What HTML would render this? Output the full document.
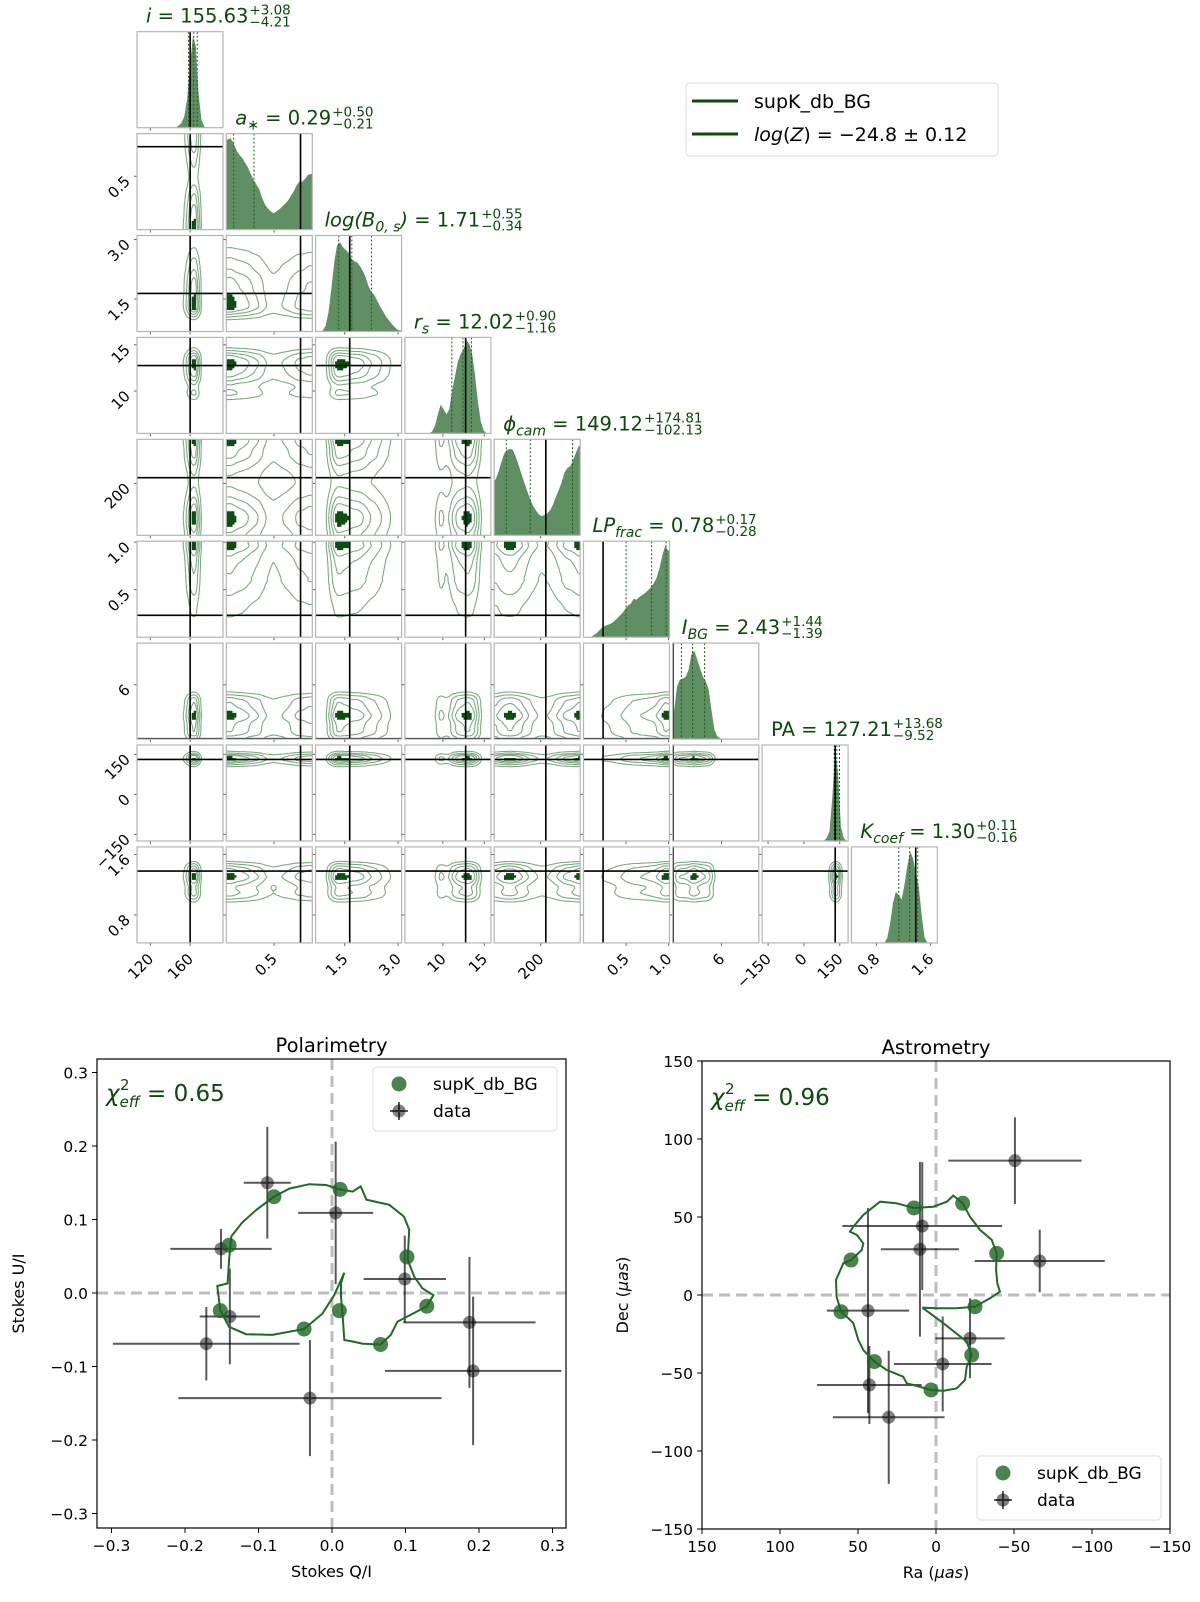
<!DOCTYPE html>
<html><head><meta charset="utf-8"><style>
html,body{margin:0;padding:0;background:#fff;}
svg{display:block;font-family:"DejaVu Sans","Liberation Sans",sans-serif;}
</style></head><body>
<svg id="chart" xmlns="http://www.w3.org/2000/svg" width="1200" height="1602" viewBox="0 0 1200 1602">
<rect x="0" y="0" width="1200" height="1602" fill="#fff"/>
<g>
<rect x="686" y="83" width="312" height="73" rx="4" fill="#fff" stroke="#ddd"/>
<line x1="692" y1="101" x2="738" y2="101" stroke="#0b4a0b" stroke-width="3"/>
<text x="754" y="108" font-size="19">supK_db_BG</text>
<line x1="692" y1="134" x2="738" y2="134" stroke="#0b4a0b" stroke-width="3"/>
<text x="754" y="141" font-size="19"><tspan font-style="italic">log</tspan>(<tspan font-style="italic">Z</tspan>) = −24.8 ± 0.12</text>
</g>
</svg>
<script>
// ---------------- corner data ----------------
const paramLo = [106.6, 0, 0.68, 5.42, 0, 0, 0, -175, 0.43];
const paramHi = [193, 0.9, 3.1, 15.8, 370, 1.01, 10.6, 185, 1.70];
const truths = [160, 0.777, 1.64, 12.75, 222, 0.23, 0.05, 131, 1.38];
const q16 = [158.4, 0.077, 1.33, 11.08, 52, 0.50, 1.06, 127, 1.13];
const q50 = [163.6, 0.29, 1.70, 12.43, 155, 0.80, 2.44, 138, 1.29];
const q84 = [167.1, 0.774, 2.25, 13.46, 337, 0.97, 3.92, 149, 1.41];
const histI = [0,0,0,0,0,0,0,0,0,0,0,0,0,0,0.02,0.05,0.12,0.3,0.65,0.95,0.85,0.35,0.08,0.01,0,0,0,0,0,0];
const histA = [0.94,0.95,0.9,0.83,0.78,0.75,0.7,0.65,0.58,0.52,0.47,0.42,0.33,0.26,0.22,0.19,0.17,0.19,0.21,0.24,0.27,0.3,0.35,0.4,0.46,0.5,0.5,0.53,0.57,0.58];
const histB = [0,0,0.01,0.06,0.2,0.45,0.72,0.9,0.93,0.88,0.85,0.82,0.76,0.73,0.72,0.68,0.63,0.56,0.47,0.41,0.38,0.32,0.26,0.21,0.16,0.12,0.08,0.05,0.02,0.01];
const histR = [0,0,0,0,0,0,0,0,0,0.02,0.08,0.2,0.3,0.25,0.2,0.25,0.45,0.6,0.75,0.83,0.88,0.97,0.93,0.82,0.6,0.32,0.12,0.03,0,0];
const histPhi = [0.58,0.66,0.76,0.85,0.89,0.9,0.89,0.82,0.73,0.64,0.55,0.46,0.38,0.31,0.26,0.22,0.2,0.21,0.23,0.26,0.32,0.4,0.47,0.55,0.65,0.7,0.72,0.78,0.86,0.93];
const histLP = [0,0,0,0.02,0.04,0.07,0.1,0.12,0.13,0.14,0.16,0.19,0.22,0.25,0.29,0.33,0.35,0.4,0.39,0.42,0.44,0.46,0.49,0.52,0.56,0.62,0.72,0.85,0.95,0.9];
const histBG = [0.3,0.55,0.62,0.63,0.65,0.72,0.88,0.92,0.83,0.74,0.65,0.6,0.52,0.3,0.1,0.03,0.01,0,0,0,0,0,0,0,0,0,0,0,0,0];
const histPA = [0,0,0,0,0,0,0,0,0,0,0,0,0,0,0,0,0,0,0,0,0,0,0.03,0.1,0.45,0.95,0.7,0.15,0.03,0];
const histK = [0,0,0,0,0,0,0,0,0,0,0,0,0.05,0.2,0.42,0.53,0.5,0.45,0.6,0.8,0.95,0.88,0.73,0.58,0.3,0.06,0,0,0,0];
const tickVals = [[120,160],[0.5],[1.5,3.0],[10,15],[200],[0.5,1.0],[6],[-150,0,150],[0.8,1.6]];
const tickLabels = [["120","160"],["0.5"],["1.5","3.0"],["10","15"],["200"],["0.5","1.0"],["6"],["−150","0","150"],["0.8","1.6"]];
const titleMain = [" = 155.63"," = 0.29"," = 1.71"," = 12.02"," = 149.12"," = 0.78"," = 2.43","PA = 127.21"," = 1.30"];
const titleSup = ["+3.08","+0.50","+0.55","+0.90","+174.81","+0.17","+1.44","+13.68","+0.11"];
const titleSub = ["−4.21","−0.21","−0.34","−1.16","−102.13","−0.28","−1.39","−9.52","−0.16"];
const titleSym = ["i","a","log(B","r","ϕ","LP","I","","K"];
const titleSymSub = ["","∗","0, s","s","cam","frac","BG","","coef"];
const titleSymTail = ["","",")","","","","","",""];
const paramNames = ["i","a-star","log-b0s","r-s","phi-cam","lp-frac","i-bg","pa","k-coef"];

// ---------------- bottom plots data ----------------
const polQ = [-0.088,0.005,-0.151,0.099,-0.139,-0.171,0.187,0.192,-0.030];
const polU = [0.150,0.109,0.060,0.019,-0.032,-0.069,-0.040,-0.106,-0.143];
const polQerr = [0.032,0.051,0.069,0.056,0.041,0.127,0.09,0.12,0.179];
const polUerr = [0.076,0.097,0.027,0.059,0.065,0.05,0.089,0.101,0.079];
const modelQ = [-0.079,0.011,-0.140,0.102,0.129,-0.152,0.010,-0.038,0.066];
const modelU = [0.131,0.141,0.065,0.049,-0.018,-0.024,-0.024,-0.049,-0.070];
const curveQ = [0.0168,0.0122,0.0122,0.0145,0.0168,0.028,0.042,0.066,0.080,0.089,0.110,0.129,0.138,0.123,0.112,0.103,0.105,0.098,0.078,0.047,0.039,0.028,0.011,-0.008,-0.031,-0.058,-0.079,-0.103,-0.122,-0.137,-0.140,-0.142,-0.156,-0.152,-0.140,-0.117,-0.081,-0.038,-0.013,0.003,0.0168];
const curveU = [0.0276,0.0132,-0.005,-0.032,-0.064,-0.066,-0.069,-0.070,-0.057,-0.039,-0.028,-0.018,-0.003,0.0064,0.022,0.045,0.086,0.104,0.120,0.127,0.145,0.138,0.141,0.147,0.148,0.142,0.131,0.113,0.096,0.077,0.045,0.013,0.0095,-0.024,-0.046,-0.056,-0.057,-0.049,-0.028,-0.003,0.0276];
const polTicks = [-0.3,-0.2,-0.1,0.0,0.1,0.2,0.3];
const polTickLabels = ["−0.3","−0.2","−0.1","0.0","0.1","0.2","0.3"];

const astRa = [-50.6,-66.5,8.8,10.3,43.6,-21.8,-4.3,42.7,30.3];
const astDec = [86.1,21.8,44.2,29.3,-10.0,-27.8,-44.2,-57.7,-78.4];
const astRaErr = [42.7,41.7,51.2,25,26.4,22.2,31.3,33.5,35.8];
const astDecErr = [27.8,20,41,56,65.7,25.6,30.4,25,42.7];
const modelRa = [14.1,-17.1,54.5,-38.9,60.9,-25,-22.9,39.5,3.2];
const modelDec = [55.8,58.8,22.4,26.7,-10.7,-7.5,-38.5,-42.7,-60.9];
const curveRa = [8.8,-4.7,-19.7,-22.9,-19.7,-18.6,-13.3,-4.7,3.2,12.4,18.8,21.0,31.6,39.5,46.6,49.8,53.0,57.2,60.9,63.7,64.1,59.4,54.5,47.6,46.6,50.8,55.1,53.0,46.6,35.9,25.2,14.1,1.7,-6.9,-11.1,-17.1,-21.8,-28.2,-35.7,-38.9,-38.5,-39.3,-41.0,-34.6,-25.0,-13.3,-0.4,8.8];
const curveDec = [-8.1,-18.1,-29.9,-38.5,-46.0,-54.5,-59.8,-61.5,-60.9,-58.3,-56.6,-52.4,-48.1,-42.7,-35.3,-28.8,-18.1,-13.9,-10.7,-1.1,9.6,20.3,22.4,28.8,33.1,38.5,40.6,43.8,51.3,59.8,58.8,55.8,56.6,59.8,63.7,58.8,50.2,41.7,35.3,26.7,16.0,7.5,2.1,-2.1,-7.5,-8.5,-8.5,-8.1];
const astTicks = [150,100,50,0,-50,-100,-150];
const astTickLabels = ["150","100","50","0","−50","−100","−150"];

// ---------------- helpers ----------------
const NS = 'http://www.w3.org/2000/svg';
const svg = document.getElementById('chart');
function mk(tag, attrs, parent) {
  const e = document.createElementNS(NS, tag);
  for (const k in attrs) e.setAttribute(k, attrs[k]);
  (parent || svg).appendChild(e);
  return e;
}
const hists = [histI, histA, histB, histR, histPhi, histLP, histBG, histPA, histK];
const W = 86, H = 96;
const colLeft = c => 137 + c * 89.3;
const rowTop = r => 31.7 + r * 101.9;
const frac = (p, v) => (v - paramLo[p]) / (paramHi[p] - paramLo[p]);
const xs = (c, v) => colLeft(c) + frac(c, v) * W;
const ys = (r, v) => rowTop(r) + H - frac(r, v) * H;
function hval(p, f) {
  const h = hists[p], n = h.length;
  let idx = f * n - 0.5;
  if (idx <= 0) return h[0];
  if (idx >= n - 1) return h[n - 1];
  const i0 = Math.floor(idx), t = idx - i0;
  return h[i0] * (1 - t) + h[i0 + 1] * t;
}
const GREEN_DARK = '#0b4a0b';

// ---------------- corner panels ----------------
const corner = mk('g', {});



function contourPath(v, N, level, x0, y0, cw, ch) {
  let d = '';
  const P = (x, y) => x.toFixed(1) + ',' + y.toFixed(1);
  for (let j = 0; j < N; j++) for (let i = 0; i < N; i++) {
    const a = v[j][i], b = v[j][i + 1], c = v[j + 1][i + 1], e = v[j + 1][i];
    const idx = (a > level ? 8 : 0) | (b > level ? 4 : 0) | (c > level ? 2 : 0) | (e > level ? 1 : 0);
    if (idx === 0 || idx === 15) continue;
    const T = () => P(x0 + (i + (level - a) / (b - a)) * cw, y0 + j * ch);
    const R = () => P(x0 + (i + 1) * cw, y0 + (j + (level - b) / (c - b)) * ch);
    const B = () => P(x0 + (i + (level - e) / (c - e)) * cw, y0 + (j + 1) * ch);
    const L = () => P(x0 + i * cw, y0 + (j + (level - a) / (e - a)) * ch);
    const seg = (p, q) => { d += 'M' + p() + 'L' + q(); };
    switch (idx) {
      case 1: case 14: seg(L, B); break;
      case 2: case 13: seg(B, R); break;
      case 3: case 12: seg(L, R); break;
      case 4: case 11: seg(T, R); break;
      case 5: seg(L, T); seg(B, R); break;
      case 6: case 9: seg(T, B); break;
      case 7: case 8: seg(L, T); break;
      case 10: seg(T, R); seg(L, B); break;
    }
  }
  return d;
}

for (let r = 0; r < 9; r++) {
  for (let c = 0; c <= r; c++) {
    const x0 = colLeft(c), y0 = rowTop(r);
    const g = mk('g', {}, corner);
    
    
    if (r === c) {
      const h = hists[c], n = h.length;
      let pts = [[x0, y0 + H], [x0, y0 + H - h[0] * H]];
      for (let k = 0; k < n; k++) pts.push([x0 + (k + 0.5) / n * W, y0 + H - h[k] * H]);
      pts.push([x0 + W, y0 + H - h[n - 1] * H], [x0 + W, y0 + H]);
      const poly = mk('polygon', { points: pts.map(p => p[0].toFixed(1) + ',' + p[1].toFixed(1)).join(' '), fill: '#5f8f63', stroke: 'none' }, g);
      
      
      [q16[c], q50[c], q84[c]].forEach((q, qi) => {
        const X = xs(c, q);
        const ln = mk('line', { x1: X, x2: X, y1: y0, y2: y0 + H, stroke: '#1d5a1f', 'stroke-width': 1, 'stroke-dasharray': '2,2' }, g);
        
        
      });
      const tX = xs(c, truths[c]);
      const tl = mk('line', { x1: tX, x2: tX, y1: y0, y2: y0 + H, stroke: '#000', 'stroke-width': 1.6 }, g);
      
      
    } else {
      const N = 44;
      const v = [];
      let mx = 0;
      for (let j = 0; j <= N; j++) {
        v.push([]);
        for (let i = 0; i <= N; i++) {
          const d = hval(c, i / N) * hval(r, 1 - j / N);
          v[j].push(d); if (d > mx) mx = d;
        }
      }
      if (mx > 0) for (let j = 0; j <= N; j++) for (let i = 0; i <= N; i++) v[j][i] /= mx;
      const cw = W / N, ch = H / N;
      let fd = '';
      for (let j = 0; j < N; j++) for (let i = 0; i < N; i++) {
        const m = (v[j][i] + v[j][i + 1] + v[j + 1][i] + v[j + 1][i + 1]) / 4;
        if (m > 0.86) fd += 'M' + (x0 + i * cw).toFixed(1) + ',' + (y0 + j * ch).toFixed(1) + 'h' + (cw + 0.3).toFixed(2) + 'v' + (ch + 0.3).toFixed(2) + 'h-' + (cw + 0.3).toFixed(2) + 'z';
      }
      const fill = mk('path', { d: fd, fill: '#0d4d12' }, g);
      
      
      [0.1, 0.25, 0.45, 0.65].forEach(lv => {
        const cp = mk('path', { d: contourPath(v, N, lv, x0, y0, cw, ch), fill: 'none', stroke: '#7daa80', 'stroke-width': 1.1 }, g);
        
        
      });
      const vX = xs(c, truths[c]);
      const vl = mk('line', { x1: vX, x2: vX, y1: y0, y2: y0 + H, stroke: '#000', 'stroke-width': 1.6 }, g);
      
      
      const hY = ys(r, truths[r]);
      const hl = mk('line', { x1: x0, x2: x0 + W, y1: hY, y2: hY, stroke: '#000', 'stroke-width': 1.6 }, g);
      
      
      tickVals[r].forEach(tv => {
        const Y = ys(r, tv);
        const tk = mk('line', { x1: x0 - 3, x2: x0, y1: Y, y2: Y, stroke: '#666', 'stroke-width': 1 }, g);
        
        
      });
    }
    tickVals[c].forEach(tv => {
      const X = xs(c, tv);
      const tk = mk('line', { x1: X, x2: X, y1: y0 + H, y2: y0 + H + 3, stroke: '#666', 'stroke-width': 1 }, g);
      
      
    });
    const fr = mk('rect', { x: x0, y: y0, width: W, height: H, fill: 'none', stroke: '#b5b5b5', 'stroke-width': 1.2 }, g);
    
    
  }
}
// bottom tick labels
for (let c = 0; c < 9; c++) {
  tickVals[c].forEach((tv, k) => {
    const X = xs(c, tv) + 4, Y = rowTop(8) + H + 17;
    const t = mk('text', { x: X, y: Y, 'font-size': 15, 'text-anchor': 'end', transform: 'rotate(-45 ' + X + ' ' + Y + ')' }, corner);
    t.textContent = tickLabels[c][k];
    
    
  });
}
// left tick labels
for (let r = 1; r < 9; r++) {
  tickVals[r].forEach((tv, k) => {
    const Y = ys(r, tv), X = colLeft(0) - 6;
    const t = mk('text', { x: X, y: Y + 6, 'font-size': 15, 'text-anchor': 'end', transform: 'rotate(-45 ' + X + ' ' + (Y + 6) + ')' }, corner);
    t.textContent = tickLabels[r][k];
    
    
  });
}
// titles
for (let p = 0; p < 9; p++) {
  const X = colLeft(p) + 9, Y = rowTop(p) - 9;
  const t = mk('text', { x: X, y: Y, 'font-size': 19.5, fill: GREEN_DARK }, corner);
  
  
  if (titleSym[p]) {
    const s = mk('tspan', { 'font-style': 'italic' }, t); s.textContent = titleSym[p];
    
    
  }
  if (titleSymSub[p]) {
    const s = mk('tspan', { 'font-style': 'italic', 'font-size': 14, dy: 5 }, t); s.textContent = titleSymSub[p];
    
    
  }
  const m = mk('tspan', titleSymSub[p] ? { dy: -5 } : {}, t);
  if (titleSymTail[p]) { const tl = mk('tspan', { 'font-style': 'italic' }, m); tl.textContent = titleSymTail[p];   }
  const mm = mk('tspan', {}, m); mm.textContent = titleMain[p];
  
  
  
  
  let w = 0; try { w = t.getComputedTextLength(); } catch (e) { w = 120; }
  const sp = mk('text', { x: X + w + 1, y: Y - 8, 'font-size': 13.5, fill: GREEN_DARK }, corner); sp.textContent = titleSup[p];
  
  
  const sb = mk('text', { x: X + w + 1, y: Y + 4, 'font-size': 13.5, fill: GREEN_DARK }, corner); sb.textContent = titleSub[p];
  
  
}

// ---------------- bottom plots ----------------
function drawPanel(cfg) {
  const g = mk('g', {});
  
  
  const { L, R, T, B, sx, sy } = cfg;
  const zx = mk('line', { x1: sx(0), x2: sx(0), y1: T, y2: B, stroke: '#bdbdbd', 'stroke-width': 3, 'stroke-dasharray': '11,6' }, g);
  
  
  const zy = mk('line', { x1: L, x2: R, y1: sy(0), y2: sy(0), stroke: '#bdbdbd', 'stroke-width': 3, 'stroke-dasharray': '11,6' }, g);
  
  
  cfg.dx.forEach((vx, k) => {
    const X = sx(vx), Y = sy(cfg.dy[k]);
    const eb = mk('path', { d: 'M' + sx(vx - cfg.dxe[k]) + ',' + Y + 'H' + sx(vx + cfg.dxe[k]) + 'M' + X + ',' + sy(cfg.dy[k] - cfg.dye[k]) + 'V' + sy(cfg.dy[k] + cfg.dye[k]), stroke: 'rgba(0,0,0,0.65)', 'stroke-width': 2, fill: 'none' }, g);
    
    
    const pt = mk('circle', { cx: X, cy: Y, r: 6.5, fill: 'rgba(0,0,0,0.5)' }, g);
    
    
  });
  const cp = mk('polyline', { points: cfg.cx.map((v, k) => sx(v).toFixed(1) + ',' + sy(cfg.cy[k]).toFixed(1)).join(' '), fill: 'none', stroke: '#1f6b25', 'stroke-width': 2 }, g);
  
  
  cfg.mx.forEach((v, k) => {
    const m = mk('circle', { cx: sx(v), cy: sy(cfg.my[k]), r: 7.5, fill: 'rgba(30,100,35,0.8)' }, g);
    
    
  });
  const fr = mk('rect', { x: L, y: T, width: R - L, height: B - T, fill: 'none', stroke: '#000', 'stroke-width': 1.2 }, g);
  
  
  cfg.xt.forEach((tv, k) => {
    const X = sx(tv);
    const tk = mk('line', { x1: X, x2: X, y1: B, y2: B + 5, stroke: '#000' }, g);
    
    
    const tl = mk('text', { x: X, y: B + 23, 'font-size': 15.5, 'text-anchor': 'middle' }, g);
    tl.textContent = cfg.xtl[k];
    
    
  });
  cfg.yt.forEach((tv, k) => {
    const Y = sy(tv);
    const tk = mk('line', { x1: L - 5, x2: L, y1: Y, y2: Y, stroke: '#000' }, g);
    
    
    const tl = mk('text', { x: L - 9, y: Y + 6, 'font-size': 15.5, 'text-anchor': 'end' }, g);
    tl.textContent = cfg.ytl[k];
    
    
  });
  const ttl = mk('text', { x: (L + R) / 2, y: T - 7, 'font-size': 19.5, 'text-anchor': 'middle' }, g);
  ttl.textContent = cfg.title;
  
  
  const xl = mk('text', { x: (L + R) / 2, y: B + 49, 'font-size': 16, 'text-anchor': 'middle' }, g);
  xl.innerHTML = cfg.xlabel;
  
  
  const yx = cfg.ylabelX, yy = (T + B) / 2;
  const yl = mk('text', { x: yx, y: yy, 'font-size': 16, 'text-anchor': 'middle', transform: 'rotate(-90 ' + yx + ' ' + yy + ')' }, g);
  yl.innerHTML = cfg.ylabel;
  
  
  const ch = mk('text', { x: cfg.chiX, y: cfg.chiY, 'font-size': 23, fill: GREEN_DARK }, g);
  ch.innerHTML = '<tspan font-style="italic">χ</tspan><tspan font-style="italic" font-size="15" dy="6">eff</tspan><tspan dy="-6"> = ' + cfg.chi + '</tspan>';
  
  
  const c2 = mk('text', { x: cfg.chiX + 14, y: cfg.chiY - 11, 'font-size': 15, fill: GREEN_DARK }, g);
  c2.textContent = '2';
  
  
  const lg = mk('g', {}, g);
  
  
  const lb = mk('rect', { x: cfg.lgX, y: cfg.lgY, width: 184, height: 64, rx: 4, fill: 'rgba(255,255,255,0.85)', stroke: '#ddd' }, lg);
  
  
  const mx0 = cfg.lgX + 26, my0 = cfg.lgY + 17, my1 = cfg.lgY + 44;
  const m1 = mk('circle', { cx: mx0, cy: my0, r: 7.5, fill: 'rgba(30,100,35,0.8)' }, lg);
  
  
  const t1 = mk('text', { x: cfg.lgX + 60, y: my0 + 6, 'font-size': 17 }, lg); t1.textContent = 'supK_db_BG';
  
  
  const m2 = mk('path', { d: 'M' + (mx0 - 9) + ',' + my1 + 'h18M' + mx0 + ',' + (my1 - 9) + 'v18', stroke: 'rgba(0,0,0,0.65)', 'stroke-width': 2 }, lg);
  
  
  const m3 = mk('circle', { cx: mx0, cy: my1, r: 6.5, fill: 'rgba(0,0,0,0.5)' }, lg);
  
  
  const t2 = mk('text', { x: cfg.lgX + 60, y: my1 + 6, 'font-size': 17 }, lg); t2.textContent = 'data';
  
  
}

drawPanel({
  name: 'polarimetry-plot', L: 97, R: 566, T: 1059, B: 1528,
  sx: q => 332 + q * 735, sy: u => 1293 - u * 735,
  dx: polQ, dy: polU, dxe: polQerr, dye: polUerr,
  cx: curveQ, cy: curveU, mx: modelQ, my: modelU,
  xt: polTicks, xtl: polTickLabels, yt: polTicks, ytl: polTickLabels,
  title: 'Polarimetry', xlabel: 'Stokes Q/I', ylabel: 'Stokes U/I', ylabelX: 24,
  chi: '0.65', chiX: 106, chiY: 1101, lgX: 373, lgY: 1067
});
drawPanel({
  name: 'astrometry-plot', L: 702, R: 1170, T: 1061, B: 1529,
  sx: ra => 936 - ra * 1.56, sy: d => 1295 - d * 1.56,
  dx: astRa, dy: astDec, dxe: astRaErr, dye: astDecErr,
  cx: curveRa, cy: curveDec, mx: modelRa, my: modelDec,
  xt: astTicks, xtl: astTickLabels, yt: astTicks, ytl: astTickLabels,
  title: 'Astrometry', xlabel: 'Ra (<tspan font-style="italic">μas</tspan>)', ylabel: 'Dec (<tspan font-style="italic">μas</tspan>)', ylabelX: 628,
  chi: '0.96', chiX: 711, chiY: 1105, lgX: 977, lgY: 1456
});
</script>
</body></html>
